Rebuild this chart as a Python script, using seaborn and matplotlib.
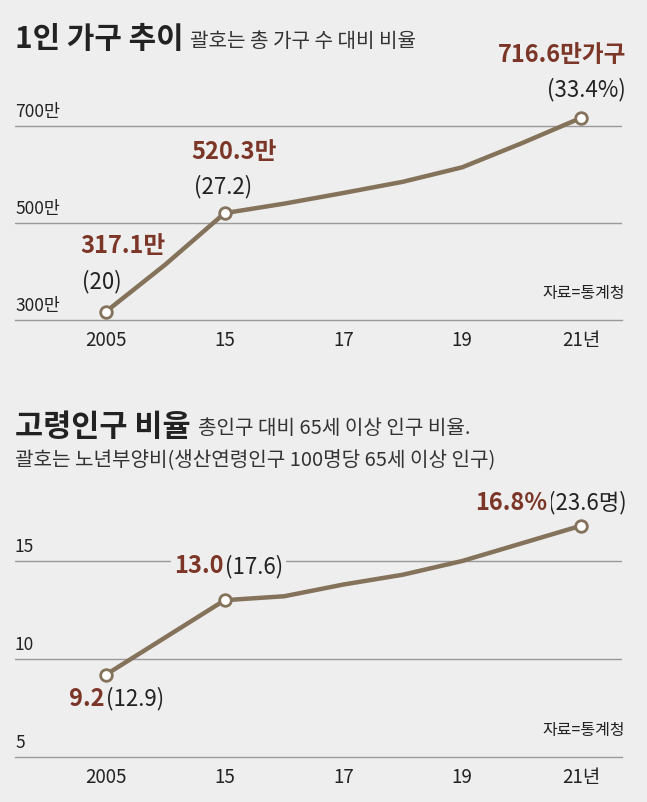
import matplotlib
matplotlib.use('Agg')
import matplotlib.pyplot as plt
import matplotlib.transforms as mtransforms
import seaborn as sns
import pandas as pd

# data
years = ['2005', '2010', '2015', '2016', '2017', '2018', '2019', '2020', '2021']
single_households = [317.1, 414.2, 520.3, 539.8, 561.9, 584.9, 614.8, 664.3, 716.6]
elderly_ratio = [9.2, 11.1, 13.0, 13.2, 13.8, 14.3, 15.0, 15.9, 16.8]
tick_years = ['2005', '2015', '2017', '2019', '2021']
tick_labels = ['2005', '15', '17', '19', '21년']
top_yticks = [300, 500, 700]
top_ylabels = ['300만', '500만', '700만']
bot_yticks = [5, 10, 15]
bot_ylabels = ['5', '10', '15']
marked_years = ['2005', '2015', '2021']
top_main = ['317.1만', '520.3만', '716.6만가구']
top_sub = ['(20)', '(27.2)', '(33.4%)']
bot_main = ['9.2', '13.0', '16.8%']
bot_sub = ['(12.9)', '(17.6)', '(23.6명)']

BG = '#eeeeee'
LINE = '#85725a'
RED = '#7b3628'
GRID = '#9a9a9a'
TXT = '#222222'

sns.set_style('white', {'axes.facecolor': BG, 'figure.facecolor': BG})
plt.rcParams['font.family'] = ['Noto Sans CJK KR', 'DejaVu Sans']

df = pd.DataFrame({'year': years, 'single': single_households, 'elderly': elderly_ratio})
df['pos'] = range(len(df))
pos = dict(zip(df['year'], df['pos']))

W, H = 647, 802
fig = plt.figure(figsize=(W / 100, H / 100), dpi=100)
fig.patch.set_facecolor(BG)

ax1 = fig.add_axes([15 / W, 1 - 320 / H, 607 / W, 218.3 / H])
ax2 = fig.add_axes([15 / W, 1 - 757 / H, 607 / W, 245 / H])


def style_axis(ax, ylim, yticks, ylabels):
    ax.set_facecolor(BG)
    ax.set_xlim(-1.53, 8.69)
    ax.set_ylim(*ylim)
    for s in ['top', 'left', 'right']:
        ax.spines[s].set_visible(False)
    ax.spines['bottom'].set_color(GRID)
    ax.spines['bottom'].set_linewidth(1.0)
    ax.set_yticks([])
    for t in yticks[1:]:
        ax.axhline(t, color=GRID, lw=1.0, zorder=1)
    trans = mtransforms.blended_transform_factory(ax.transAxes, ax.transData)
    for t, lab in zip(yticks, ylabels):
        ax.annotate(lab, xy=(0, t), xycoords=trans, xytext=(0, 5),
                    textcoords='offset pixels', ha='left', va='bottom',
                    fontsize=12.5, color=TXT)
    ax.set_xticks([pos[y] for y in tick_years], tick_labels)
    ax.tick_params(axis='x', direction='in', length=6, width=0.8, color=GRID,
                   pad=7, labelsize=13.5, labelcolor=TXT)
    ax.set_xlabel('')
    ax.set_ylabel('')
    ax.annotate('자료=통계청', xy=(1, 0), xycoords='axes fraction', xytext=(3, 18),
                textcoords='offset pixels', ha='right', va='bottom',
                fontsize=11.5, color=TXT)


def draw_line(ax, col):
    sns.lineplot(data=df, x='pos', y=col, ax=ax, color=LINE, lw=3.2,
                 zorder=3, legend=False)
    sel = df[df['year'].isin(marked_years)]
    sns.scatterplot(data=sel, x='pos', y=col, ax=ax, s=70, color='white',
                    edgecolor=LINE, linewidth=2, zorder=4, legend=False)
    ax.set_xlabel('')
    ax.set_ylabel('')


# top panel
draw_line(ax1, 'single')
style_axis(ax1, (300, 750), top_yticks, top_ylabels)
top_offsets = [((-26, 66), (-24, 30), 'left'),
               ((-33, 61), (-31, 27), 'left'),
               ((45, 63), (45, 28), 'right')]
for yr, m, s, (o1, o2, ha) in zip(marked_years, top_main, top_sub, top_offsets):
    v = df.loc[df['year'] == yr, 'single'].iloc[0]
    ax1.annotate(m, xy=(pos[yr], v), xytext=o1, textcoords='offset pixels',
                 ha=ha, va='center', fontsize=17, fontweight='bold', color=RED,
                 annotation_clip=False)
    ax1.annotate(s, xy=(pos[yr], v), xytext=o2, textcoords='offset pixels',
                 ha=ha, va='center', fontsize=16, color=TXT,
                 annotation_clip=False)

# bottom panel
draw_line(ax2, 'elderly')
style_axis(ax2, (5, 17.5), bot_yticks, bot_ylabels)
bot_offsets = [(-1, -24), (-1, 34), (-34, 23)]
for yr, m, s, (dx, dy) in zip(marked_years, bot_main, bot_sub, bot_offsets):
    v = df.loc[df['year'] == yr, 'elderly'].iloc[0]
    box = dict(boxstyle='square,pad=0.15', fc=BG, ec='none')
    ax2.annotate(s, xy=(pos[yr], v), xytext=(dx + 1, dy), textcoords='offset pixels',
                 ha='left', va='center', fontsize=16, color=TXT,
                 bbox=box, zorder=5, annotation_clip=False)
    ax2.annotate(m, xy=(pos[yr], v), xytext=(dx, dy), textcoords='offset pixels',
                 ha='right', va='center', fontsize=17, fontweight='bold', color=RED,
                 bbox=box, zorder=6, annotation_clip=False)

# titles
fig.text(15 / W, 1 - 48 / H, '1인 가구 추이', fontsize=21.5, fontweight='bold',
         color=TXT, va='baseline', ha='left')
fig.text(190 / W, 1 - 47 / H, '괄호는 총 가구 수 대비 비율', fontsize=14.5,
         color='#333333', va='baseline', ha='left')
fig.text(15 / W, 1 - 436 / H, '고령인구 비율', fontsize=22, fontweight='bold',
         color=TXT, va='baseline', ha='left')
fig.text(198 / W, 1 - 434 / H, '총인구 대비 65세 이상 인구 비율.', fontsize=14.5,
         color='#333333', va='baseline', ha='left')
fig.text(15 / W, 1 - 466 / H, '괄호는 노년부양비(생산연령인구 100명당 65세 이상 인구)',
         fontsize=14.5, color='#333333', va='baseline', ha='left')

fig.savefig('out.png', dpi=100, facecolor=BG)
